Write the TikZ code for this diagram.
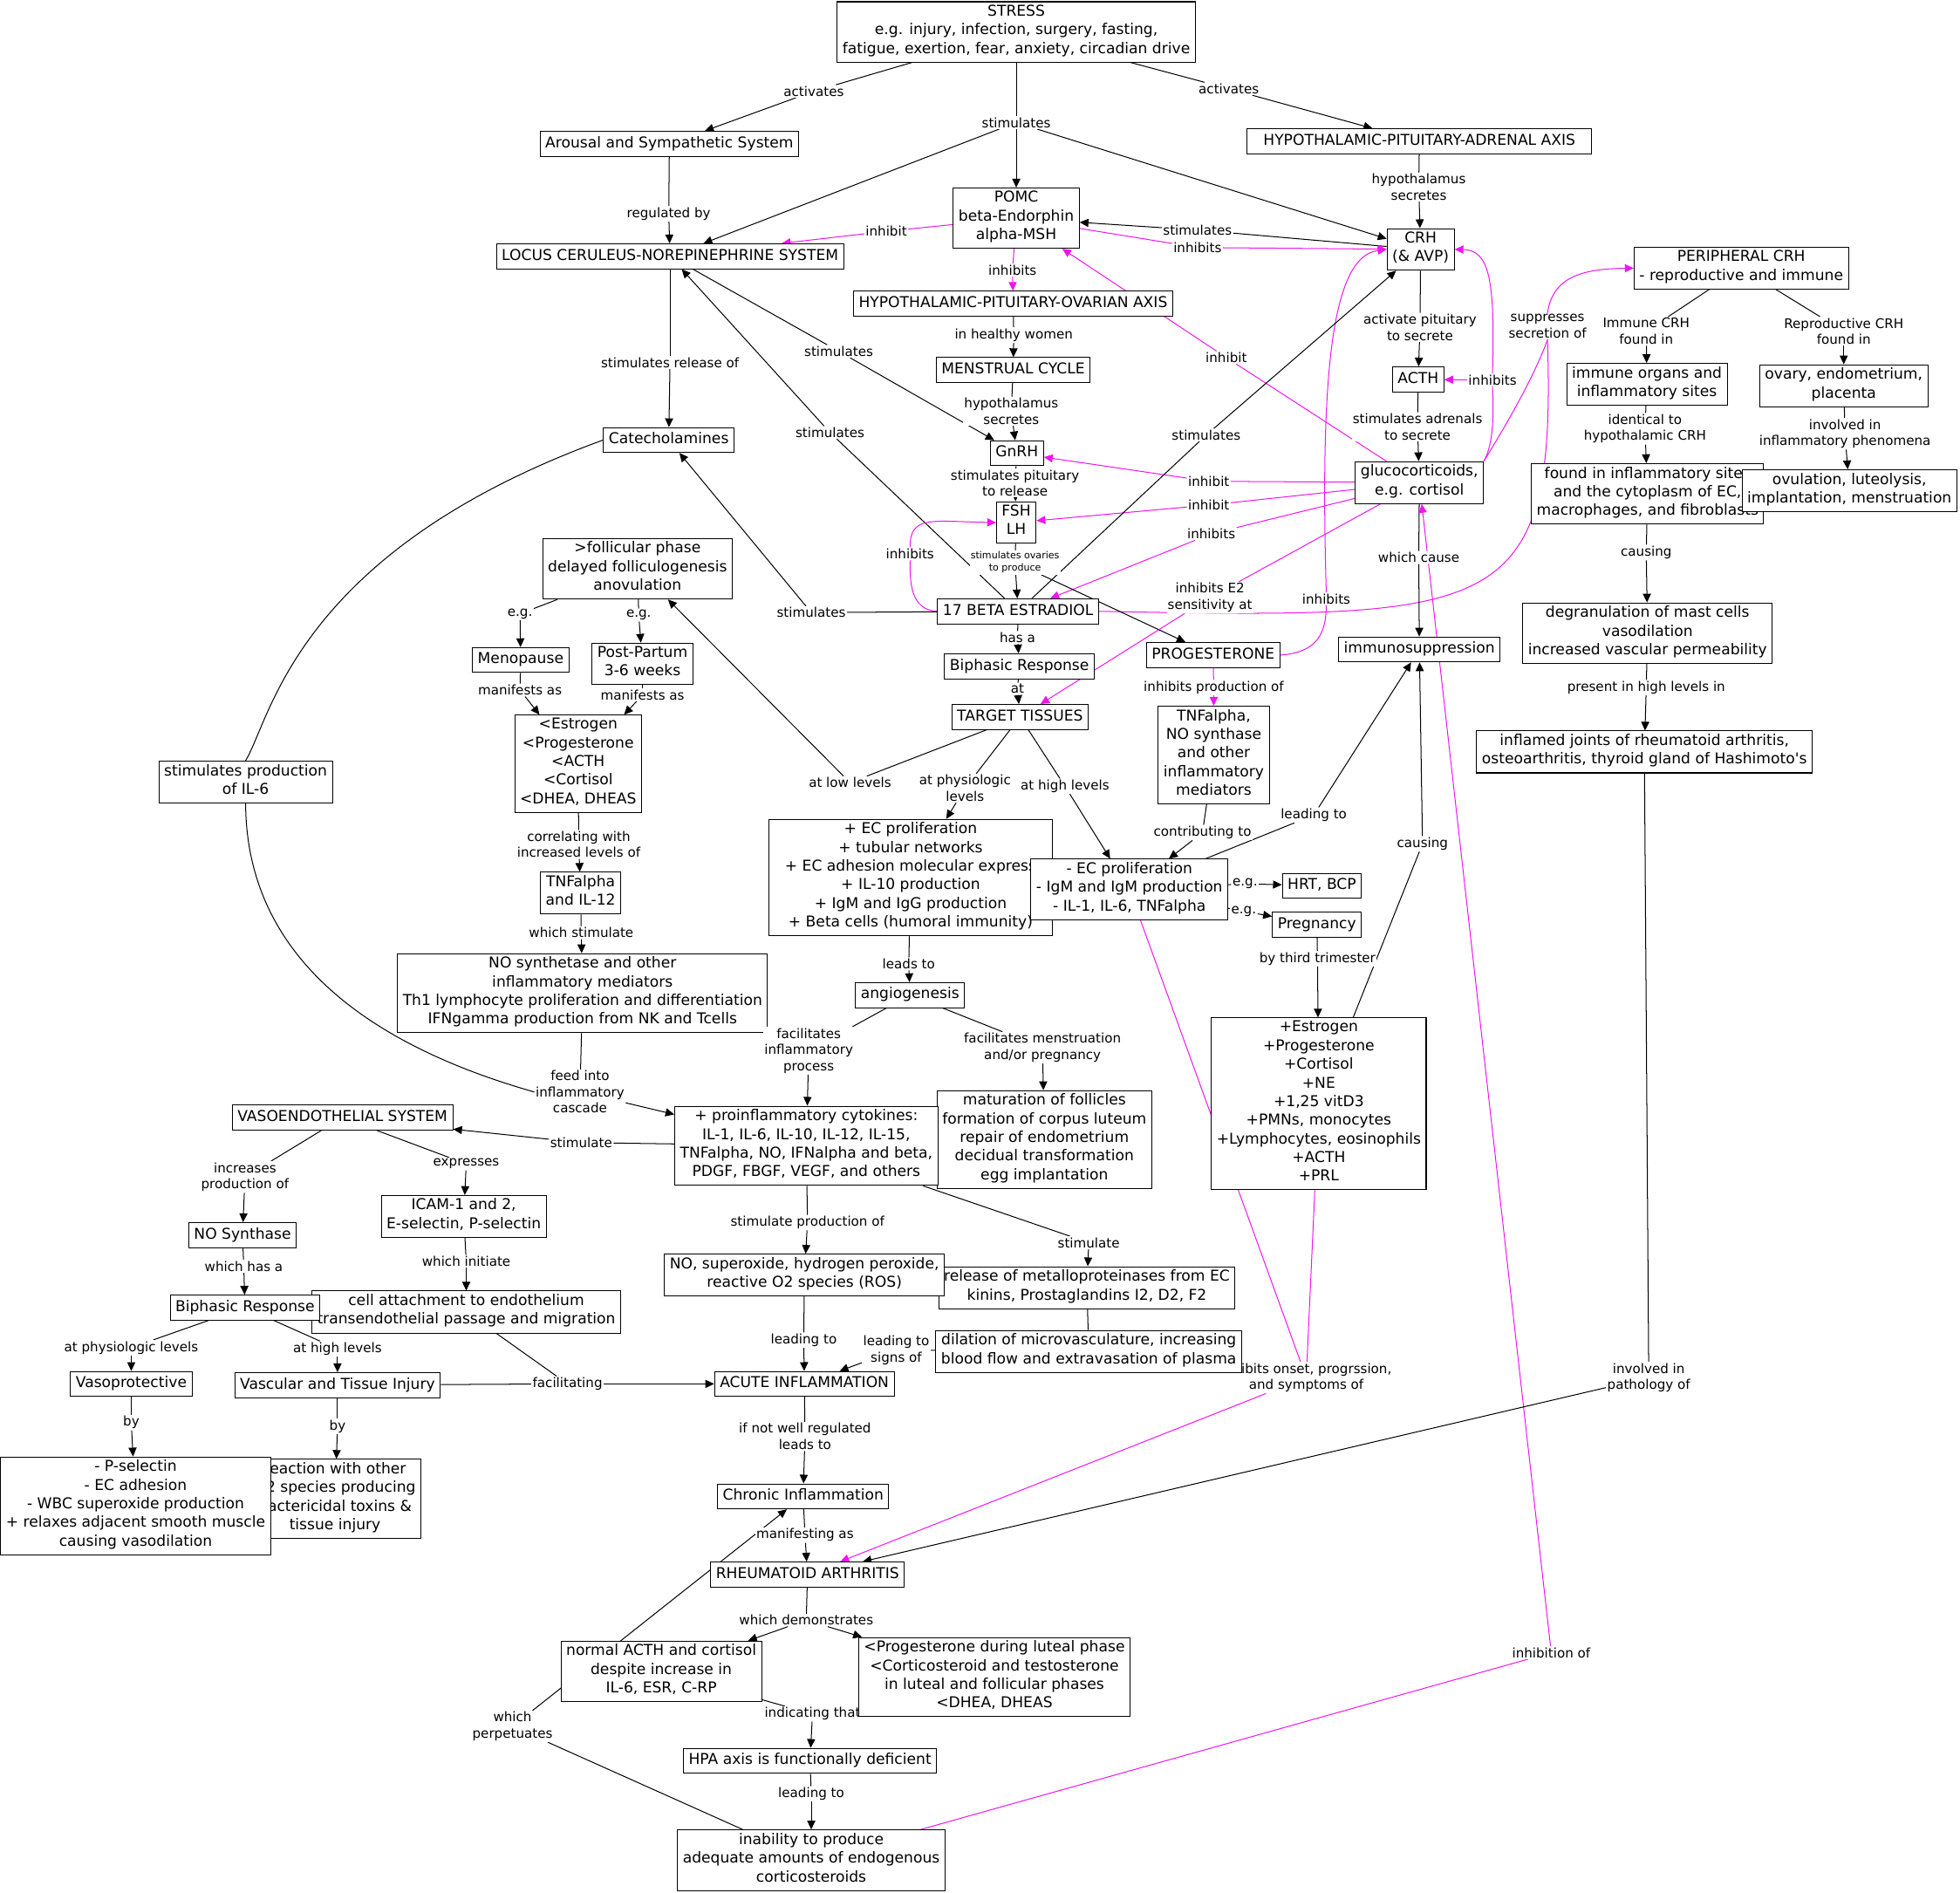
\documentclass[tikz,border=0pt]{standalone}
\usepackage{fontspec}
\setmainfont{DejaVu Sans}
\usetikzlibrary{arrows.meta, backgrounds}
\definecolor{fucsia}{HTML}{F014F0}
\tikzset{
  concepto/.style={rectangle, draw=black, fill=white, line width=0.5pt, align=center,
                   inner xsep=3pt, inner ysep=1.8pt, font=\fontsize{8.5}{10.6}\selectfont,
                   execute at begin node=\strut},
  enlace/.style={fill=white, inner sep=0.6pt, align=center, font=\fontsize{7.5}{9.2}\selectfont},
  enlacechico/.style={enlace, font=\fontsize{5.5}{7}\selectfont},
  linea/.style={line width=0.5pt, color=black},
  flecha/.style={linea, -{Triangle[length=5pt,width=4.6pt]}},
  linearosa/.style={line width=0.5pt, color=fucsia},
  flecharosa/.style={linearosa, -{Triangle[length=5pt,width=4.6pt]}}
}

\begin{document}
\begin{tikzpicture}[x=0.025cm, y=-0.025cm]
  \useasboundingbox (0,0) rectangle (1568,1514);
  % conceptos
  \node (stress) [concepto] at (813,25.5) {STRESS\\e.g. injury, infection, surgery, fasting,\\fatigue, exertion, fear, anxiety, circadian drive};
  \node (arousal) [concepto] at (535.5,115) {Arousal and Sympathetic System};
  \node (hpa) [concepto, minimum width=196pt] at (1135.5,113) {HYPOTHALAMIC-PITUITARY-ADRENAL AXIS};
  \node (pomc) [concepto] at (813,174.5) {POMC\\beta-Endorphin\\alpha-MSH};
  \node (crh) [concepto] at (1136.5,199.5) {CRH\\(\& AVP)};
  \node (locus) [concepto] at (536,205) {LOCUS CERULEUS-NOREPINEPHRINE SYSTEM};
  \node (hpo) [concepto] at (810.5,243) {HYPOTHALAMIC-PITUITARY-OVARIAN AXIS};
  \node (pcrh) [concepto] at (1393,214.5) {PERIPHERAL CRH\\- reproductive and immune};
  \node (ciclo) [concepto] at (810.5,296) {MENSTRUAL CYCLE};
  \node (acth) [concepto] at (1134.5,303.5) {ACTH};
  \node (inmune) [concepto] at (1317.5,307.5) {immune organs and\\inflammatory sites};
  \node (ovario) [concepto] at (1475,308.5) {ovary, endometrium,\\placenta};
  \node (catecol) [concepto] at (535,352) {Catecholamines};
  \node (gnrh) [concepto] at (813.5,362.5) {GnRH};
  \node (gluco) [concepto] at (1135.5,386) {glucocorticoids,\\e.g. cortisol};
  \node (sitios) [concepto] at (1318,395) {found in inflammatory sites\\and the cytoplasm of EC,\\macrophages, and fibroblasts};
  \node (ovula) [concepto] at (1479.5,392.5) {ovulation, luteolysis,\\implantation, menstruation};
  \node (fsh) [concepto] at (813,418) {FSH\\LH};
  \node (folic) [concepto] at (510,455) {>follicular phase\\delayed folliculogenesis\\anovulation};
  \node (e2) [concepto] at (814.5,489) {17 BETA ESTRADIOL};
  \node (prog) [concepto] at (970.5,524) {PROGESTERONE};
  \node (inmsup) [concepto] at (1135.5,519.5) {immunosuppression};
  \node (degran) [concepto] at (1318,506.5) {degranulation of mast cells\\vasodilation\\increased vascular permeability};
  \node (menop) [concepto] at (416.5,528) {Menopause};
  \node (postp) [concepto] at (514,531) {Post-Partum\\3-6 weeks};
  \node (bif1) [concepto] at (815.5,533) {Biphasic Response};
  \node (tejidos) [concepto] at (816,573.5) {TARGET TISSUES};
  \node (tnfmed) [concepto] at (971,604) {TNFalpha,\\NO synthase\\and other\\inflammatory\\mediators};
  \node (bajos) [concepto] at (462.5,611) {<Estrogen\\<Progesterone\\<ACTH\\<Cortisol\\<DHEA, DHEAS};
  \node (artic) [concepto] at (1315.5,601.5) {inflamed joints of rheumatoid arthritis,\\osteoarthritis, thyroid gland of Hashimoto\textquotesingle s};
  \node (il6) [concepto] at (196.5,625.5) {stimulates production\\of IL-6};
  \node (ecmas) [concepto, minimum width=161pt] at (728.5,702) {+ EC proliferation\\+ tubular networks\\+ EC adhesion molecular express\\+ IL-10 production\\+ IgM and IgG production\\+ Beta cells (humoral immunity)};
  \node (ecmenos) [concepto] at (903.5,711.5) {- EC proliferation\\- IgM and IgM production\\- IL-1, IL-6, TNFalpha};
  \node (hrt) [concepto] at (1057.5,708.5) {HRT, BCP};
  \node (embarazo) [concepto] at (1053.5,739.5) {Pregnancy};
  \node (tnf12) [concepto] at (464.5,714.5) {TNFalpha\\and IL-12};
  \node (emas) [concepto] at (1055,883) {+Estrogen\\+Progesterone\\+Cortisol\\+NE\\+1,25 vitD3\\+PMNs, monocytes\\+Lymphocytes, eosinophils\\+ACTH\\+PRL};
  \node (nosint) [concepto] at (466,794.5) {NO synthetase and other\\inflammatory mediators\\Th1 lymphocyte proliferation and differentiation\\IFNgamma production from NK and Tcells};
  \node (angio) [concepto] at (728,796) {angiogenesis};
  \node (madura) [concepto] at (835.5,911.5) {maturation of follicles\\formation of corpus luteum\\repair of endometrium\\decidual transformation\\egg implantation};
  \node (vaso) [concepto] at (274,894) {VASOENDOTHELIAL SYSTEM};
  \node (citoq) [concepto] at (645,916.5) {+ proinflammatory cytokines:\\IL-1, IL-6, IL-10, IL-12, IL-15,\\TNFalpha, NO, IFNalpha and beta,\\PDGF, FBGF, VEGF, and others};
  \node (icam) [concepto] at (371,973) {ICAM-1 and 2,\\E-selectin, P-selectin};
  \node (nos) [concepto] at (194,988) {NO Synthase};
  \node (metal) [concepto] at (869.5,1030) {release of metalloproteinases from EC\\kinins, Prostaglandins I2, D2, F2};
  \node (ros) [concepto] at (643.5,1020) {NO, superoxide, hydrogen peroxide,\\reactive O2 species (ROS)};
  \node (union) [concepto] at (373,1049.5) {cell attachment to endothelium\\transendothelial passage and migration};
  \node (bif2) [concepto] at (196,1046) {Biphasic Response};
  \node (lOnset) [enlace] at (1045,1102) {inhibits onset, progrssion,\\and symptoms of};
  \node (dilat) [concepto] at (871,1081) {dilation of microvasculature, increasing\\blood flow and extravasation of plasma};
  \node (vprot) [concepto] at (105,1107) {Vasoprotective};
  \node (lesion) [concepto] at (270,1108) {Vascular and Tissue Injury};
  \node (aguda) [concepto] at (643.5,1107) {ACUTE INFLAMMATION};
  \node (reac) [concepto] at (268,1199) {reaction with other\\O2 species producing\\bactericidal toxins \&\\tissue injury};
  \node (psel) [concepto] at (108.5,1204.5) {- P-selectin\\- EC adhesion\\- WBC superoxide production\\+ relaxes adjacent smooth muscle\\causing vasodilation};
  \node (cronica) [concepto] at (642.5,1197) {Chronic Inflammation};
  \node (ar) [concepto] at (646,1259.5) {RHEUMATOID ARTHRITIS};
  \node (normal) [concepto] at (529,1337) {normal ACTH and cortisol\\despite increase in\\IL-6, ESR, C-RP};
  \node (lIndic) [enlace] at (650,1371) {indicating that};
  \node (progl) [concepto] at (795.5,1341.5) {<Progesterone during luteal phase\\<Corticosteroid and testosterone\\in luteal and follicular phases\\<DHEA, DHEAS};
  \node (hpadef) [concepto] at (648,1408.5) {HPA axis is functionally deficient};
  \node (incap) [concepto] at (649,1488) {inability to produce\\adequate amounts of endogenous\\corticosteroids};
  % frases de enlace
  \node (lAct1) [enlace] at (651,73) {activates};
  \node (lAct2) [enlace] at (983,71) {activates};
  \node (lEst) [enlace] at (813,98) {stimulates};
  \node (lReg) [enlace] at (535,171) {regulated by};
  \node (lHip1) [enlace] at (1135,149.5) {hypothalamus\\secretes};
  \node (lInhLc) [enlace] at (709,185) {inhibit};
  \node (lEstP) [enlace] at (958,184) {stimulates};
  \node (lInhC) [enlace] at (958,198) {inhibits};
  \node (lInhO) [enlace] at (810,216) {inhibits};
  \node (lSup) [enlace] at (1238,261) {suppresses\\secretion of};
  \node (lActP) [enlace] at (1136,262) {activate pituitary\\to secrete};
  \node (lInm) [enlace] at (1317,265) {Immune CRH\\found in};
  \node (lRep) [enlace] at (1475,265) {Reproductive CRH\\found in};
  \node (lSana) [enlace] at (811,268) {in healthy women};
  \node (lEstG) [enlace] at (671,281) {stimulates};
  \node (lInhP) [enlace] at (981,286) {inhibit};
  \node (lLib) [enlace] at (536,290) {stimulates release of};
  \node (lInhA) [enlace] at (1194,304) {inhibits};
  \node (lHip2) [enlace] at (809,329) {hypothalamus\\secretes};
  \node (lAdr) [enlace] at (1134,341.5) {stimulates adrenals\\to secrete};
  \node (lIdent) [enlace] at (1316,343) {identical to\\hypothalamic CRH};
  \node (lInv) [enlace] at (1476,347) {involved in\\inflammatory phenomena};
  \node (lEstL) [enlace] at (664,346) {stimulates};
  \node (lEstC) [enlace] at (965,348) {stimulates};
  \node (lInhG) [enlace] at (967,385) {inhibit};
  \node (lInhF) [enlace] at (967,404) {inhibit};
  \node (lInhE) [enlace] at (969,427) {inhibits};
  \node (lPit) [enlace] at (812,386.5) {stimulates pituitary\\to release};
  \node (lInhF2) [enlace] at (728,443) {inhibits};
  \node (lCausa) [enlace] at (1135,446) {which cause};
  \node (lCaus2) [enlace] at (1317,442) {causing};
  \node (lOva) [enlacechico] at (812,450) {stimulates ovaries\\to produce};
  \node (lSens) [enlace] at (968,478) {inhibits E2\\sensitivity at};
  \node (lInhCr) [enlace] at (1061,479) {inhibits};
  \node (lEstCa) [enlace] at (649,490) {stimulates};
  \node (lEg1) [enlace] at (416,491) {e.g.};
  \node (lEg2) [enlace] at (511,492) {e.g.};
  \node (lTiene) [enlace] at (814,510) {has a};
  \node (lProd) [enlace] at (971,550) {inhibits production of};
  \node (lPres) [enlace] at (1317,550) {present in high levels in};
  \node (lMan1) [enlace] at (416,552) {manifests as};
  \node (lMan2) [enlace] at (514,556) {manifests as};
  \node (lEn) [enlace] at (814,551) {at};
  \node (lBajo) [enlace] at (680,626) {at low levels};
  \node (lFisio) [enlace] at (772,630.5) {at physiologic\\levels};
  \node (lAlto) [enlace] at (852,629) {at high levels};
  \node (lLlevaI) [enlace] at (1051,652) {leading to};
  \node (lContr) [enlace] at (962,666) {contributing to};
  \node (lCorr) [enlace] at (463,675.5) {correlating with\\increased levels of};
  \node (lCaus3) [enlace] at (1138,675) {causing};
  \node (lEg3) [enlace] at (996,707) {e.g.};
  \node (lEg4) [enlace] at (995,729) {e.g.};
  \node (lEstim) [enlace] at (465,746) {which stimulate};
  \node (lTrim) [enlace] at (1054,767) {by third trimester};
  \node (lLleva) [enlace] at (727,771) {leads to};
  \node (lFacI) [enlace] at (647,840.5) {facilitates\\inflammatory\\process};
  \node (lFacM) [enlace] at (834,838) {facilitates menstruation\\and/or pregnancy};
  \node (lCasc) [enlace] at (464,873.5) {feed into\\inflammatory\\cascade};
  \node (lEstV) [enlace] at (465,914) {stimulate};
  \node (lExp) [enlace] at (373,931) {expresses};
  \node (lAum) [enlace] at (196,941.5) {increases\\production of};
  \node (lEstPr) [enlace] at (646,978) {stimulate production of};
  \node (lEstM) [enlace] at (871,994) {stimulate};
  \node (lInic) [enlace] at (373,1009) {which initiate};
  \node (lTiene2) [enlace] at (195,1013) {which has a};
  \node (lLlevaA) [enlace] at (643,1072) {leading to};
  \node (lSignos) [enlace] at (717,1080) {leading to\\signs of};
  \node (lFis2) [enlace] at (105,1078) {at physiologic levels};
  \node (lAlto2) [enlace] at (270,1079) {at high levels};
  \node (lFacil) [enlace] at (454,1107) {facilitating};
  \node (lPat) [enlace] at (1319,1102) {involved in\\pathology of};
  \node (lPor1) [enlace] at (105,1138) {by};
  \node (lPor2) [enlace] at (270,1141) {by};
  \node (lNoReg) [enlace] at (644,1149) {if not well regulated\\leads to};
  \node (lManif) [enlace] at (644,1228) {manifesting as};
  \node (lDem) [enlace] at (645,1296) {which demonstrates};
  \node (lInhib) [enlace] at (1241,1322) {inhibition of};
  \node (lPerp) [enlace] at (410,1381) {which\\perpetuates};
  \node (lLlevaN) [enlace] at (649,1435) {leading to};

  \begin{pgfonlayer}{background}
  \draw [linea] (stress) -- (lAct1); \draw [flecha] (lAct1) -- (arousal);
  \draw [linea] (stress) -- (lAct2); \draw [flecha] (lAct2) -- (hpa);
  \draw [linea] (stress) -- (lEst); \draw [flecha] (lEst) -- (pomc);
  \draw [flecha] (lEst) -- (locus); \draw [flecha] (lEst) -- (crh);
  \draw [linea] (arousal) -- (lReg); \draw [flecha] (lReg) -- (locus);
  \draw [linea] (hpa) -- (lHip1); \draw [flecha] (lHip1) -- (crh);
  \draw [linearosa] (pomc) -- (lInhLc); \draw [flecharosa] (lInhLc) -- (locus);
  \draw [linea] (crh) -- (lEstP); \draw [flecha] (lEstP) -- (pomc);
  \draw [linearosa] (pomc) -- (lInhC); \draw [flecharosa] (lInhC) -- (crh);
  \draw [linearosa] (pomc) -- (lInhO); \draw [flecharosa] (lInhO) -- (hpo);
  \draw [linea] (locus) -- (lLib); \draw [flecha] (lLib) -- (catecol);
  \draw [linea] (locus) -- (lEstG); \draw [flecha] (lEstG) -- (gnrh);
  \draw [linea] (e2) -- (lEstL); \draw [flecha] (lEstL) -- (locus);
  \draw [linea] (hpo) -- (lSana); \draw [flecha] (lSana) -- (ciclo);
  \draw [linea] (ciclo) -- (lHip2); \draw [flecha] (lHip2) -- (gnrh);
  \draw [linea] (crh) -- (lActP); \draw [flecha] (lActP) -- (acth);
  \draw [linearosa] (gluco) -- (lInhP); \draw [flecharosa] (lInhP) -- (pomc);
  \draw [linearosa] (gluco.north east) .. controls (1205,340) and (1228,300) .. (lSup.south);
  \draw [linearosa] (e2.east) .. controls (1200,495) and (1245,495) .. (lSup.south);
  \draw [flecharosa] (lSup.north) .. controls (1242,222) and (1265,215) .. (pcrh.west);
  \draw [linea] (pcrh) -- (lInm); \draw [flecha] (lInm) -- (inmune);
  \draw [linea] (pcrh) -- (lRep); \draw [flecha] (lRep) -- (ovario);
  \draw [linearosa] (gluco.north east) .. controls (1195,355) and (1195,330) .. (lInhA.south);
  \draw [flecharosa] (lInhA) -- (acth);
  \draw [flecharosa] (lInhA.north) .. controls (1196,225) and (1192,200) .. (crh.east);
  \draw [linea] (acth) -- (lAdr); \draw [flecha] (lAdr) -- (gluco);
  \draw [linea] (inmune) -- (lIdent); \draw [flecha] (lIdent) -- (sitios);
  \draw [linea] (ovario) -- (lInv); \draw [flecha] (lInv) -- (ovula);
  \draw [linea] (gnrh) -- (lPit); \draw [flecha] (lPit) -- (fsh);
  \draw [linearosa] (gluco) -- (lInhG); \draw [flecharosa] (lInhG) -- (gnrh);
  \draw [linearosa] (gluco) -- (lInhF); \draw [flecharosa] (lInhF) -- (fsh);
  \draw [linearosa] (gluco) -- (lInhE); \draw [flecharosa] (lInhE) -- (e2);
  \draw [linea] (gluco) -- (lCausa); \draw [flecha] (lCausa) -- (inmsup);
  \draw [linea] (sitios) -- (lCaus2); \draw [flecha] (lCaus2) -- (degran);
  \draw [linea] (fsh) -- (lOva); \draw [flecha] (lOva) -- (e2); \draw [flecha] (lOva) -- (prog);
  \draw [linearosa] (gluco) -- (lSens); \draw [flecharosa] (lSens) -- (tejidos);
  \draw [linearosa] (prog.east) .. controls (1055,522) and (1061,505) .. (lInhCr.south);
  \draw [flecharosa] (lInhCr.north) .. controls (1056,300) and (1065,205) .. (crh.west);
  \draw [linea] (e2) -- (lEstC); \draw [flecha] (lEstC) -- (crh);
  \draw [linearosa] (e2.west) .. controls (728,488) and (728,465) .. (lInhF2.south);
  \draw [flecharosa] (lInhF2.north) .. controls (728,412) and (745,417) .. (fsh.west);
  \draw [linea] (e2) -- (lEstCa); \draw [flecha] (lEstCa) -- (catecol);
  \draw [linea] (e2) -- (lTiene); \draw [flecha] (lTiene) -- (bif1);
  \draw [linea] (bif1) -- (lEn); \draw [flecha] (lEn) -- (tejidos);
  \draw [linearosa] (prog) -- (lProd); \draw [flecharosa] (lProd) -- (tnfmed);
  \draw [linea] (degran) -- (lPres); \draw [flecha] (lPres) -- (artic);
  \draw [linea] (folic) -- (lEg1); \draw [flecha] (lEg1) -- (menop);
  \draw [linea] (folic) -- (lEg2); \draw [flecha] (lEg2) -- (postp);
  \draw [linea] (menop) -- (lMan1); \draw [flecha] (lMan1) -- (bajos);
  \draw [linea] (postp) -- (lMan2); \draw [flecha] (lMan2) -- (bajos);
  \draw [linea] (tejidos) -- (lBajo); \draw [flecha] (lBajo) -- (folic);
  \draw [linea] (tejidos) -- (lFisio); \draw [flecha] (lFisio) -- (ecmas);
  \draw [linea] (tejidos) -- (lAlto); \draw [flecha] (lAlto) -- (ecmenos);
  \draw [linea] (tnfmed) -- (lContr); \draw [flecha] (lContr) -- (ecmenos);
  \draw [linea] (ecmenos) -- (lLlevaI); \draw [flecha] (lLlevaI) -- (inmsup);
  \draw [linea] (ecmenos) -- (lEg3); \draw [flecha] (lEg3) -- (hrt);
  \draw [linea] (ecmenos) -- (lEg4); \draw [flecha] (lEg4) -- (embarazo);
  \draw [linea] (embarazo) -- (lTrim); \draw [flecha] (lTrim) -- (emas);
  \draw [linea] (emas) -- (lCaus3); \draw [flecha] (lCaus3) -- (inmsup);
  \draw [linea] (bajos) -- (lCorr); \draw [flecha] (lCorr) -- (tnf12);
  \draw [linea] (tnf12) -- (lEstim); \draw [flecha] (lEstim) -- (nosint);
  \draw [linea] (ecmas) -- (lLleva); \draw [flecha] (lLleva) -- (angio);
  \draw [linea] (angio) -- (lFacI); \draw [flecha] (lFacI) -- (citoq);
  \draw [linea] (angio) -- (lFacM); \draw [flecha] (lFacM) -- (madura);
  \draw [linea] (catecol.west) .. controls (236,442) and (217,575) .. (il6.north);
  \draw [linea] (il6.south) .. controls (197,780) and (320,843) .. (lCasc.west);
  \draw [linea] (nosint) -- (lCasc); \draw [flecha] (lCasc) -- (citoq);
  \draw [linea] (citoq) -- (lEstV); \draw [flecha] (lEstV) -- (vaso);
  \draw [linea] (vaso) -- (lAum); \draw [flecha] (lAum) -- (nos);
  \draw [linea] (vaso) -- (lExp); \draw [flecha] (lExp) -- (icam);
  \draw [linea] (nos) -- (lTiene2); \draw [flecha] (lTiene2) -- (bif2);
  \draw [linea] (icam) -- (lInic); \draw [flecha] (lInic) -- (union);
  \draw [linea] (bif2) -- (lFis2); \draw [flecha] (lFis2) -- (vprot);
  \draw [linea] (bif2) -- (lAlto2); \draw [flecha] (lAlto2) -- (lesion);
  \draw [linea] (lesion) -- (lFacil); \draw [linea] (union) -- (lFacil); \draw [flecha] (lFacil) -- (aguda);
  \draw [linea] (vprot) -- (lPor1); \draw [flecha] (lPor1) -- (psel);
  \draw [linea] (lesion) -- (lPor2); \draw [flecha] (lPor2) -- (reac);
  \draw [linea] (citoq) -- (lEstPr); \draw [flecha] (lEstPr) -- (ros);
  \draw [linea] (citoq) -- (lEstM); \draw [flecha] (lEstM) -- (metal);
  \draw [linea] (metal) -- (dilat);
  \draw [linea] (ros) -- (lLlevaA); \draw [flecha] (lLlevaA) -- (aguda);
  \draw [linea] (dilat) -- (lSignos); \draw [flecha] (lSignos) -- (aguda);
  \draw [linea] (aguda) -- (lNoReg); \draw [flecha] (lNoReg) -- (cronica);
  \draw [linea] (cronica) -- (lManif); \draw [flecha] (lManif) -- (ar);
  \draw [linea] (ar) -- (lDem); \draw [flecha] (lDem) -- (normal); \draw [flecha] (lDem) -- (progl);
  \draw [linea] (normal) -- (lIndic); \draw [flecha] (lIndic) -- (hpadef);
  \draw [linea] (hpadef) -- (lLlevaN); \draw [flecha] (lLlevaN) -- (incap);
  \draw [linea] (incap) -- (lPerp); \draw [flecha] (lPerp) -- (cronica);
  \draw [linearosa] (incap) -- (lInhib); \draw [flecharosa] (lInhib) -- (gluco);
  \draw [linea] (artic) -- (lPat); \draw [flecha] (lPat) -- (ar);
  \draw [linearosa] (ecmenos) -- (lOnset); \draw [linearosa] (emas) -- (lOnset);
  \draw [flecharosa] (lOnset) -- (ar);
  \end{pgfonlayer}
\end{tikzpicture}
\end{document}
